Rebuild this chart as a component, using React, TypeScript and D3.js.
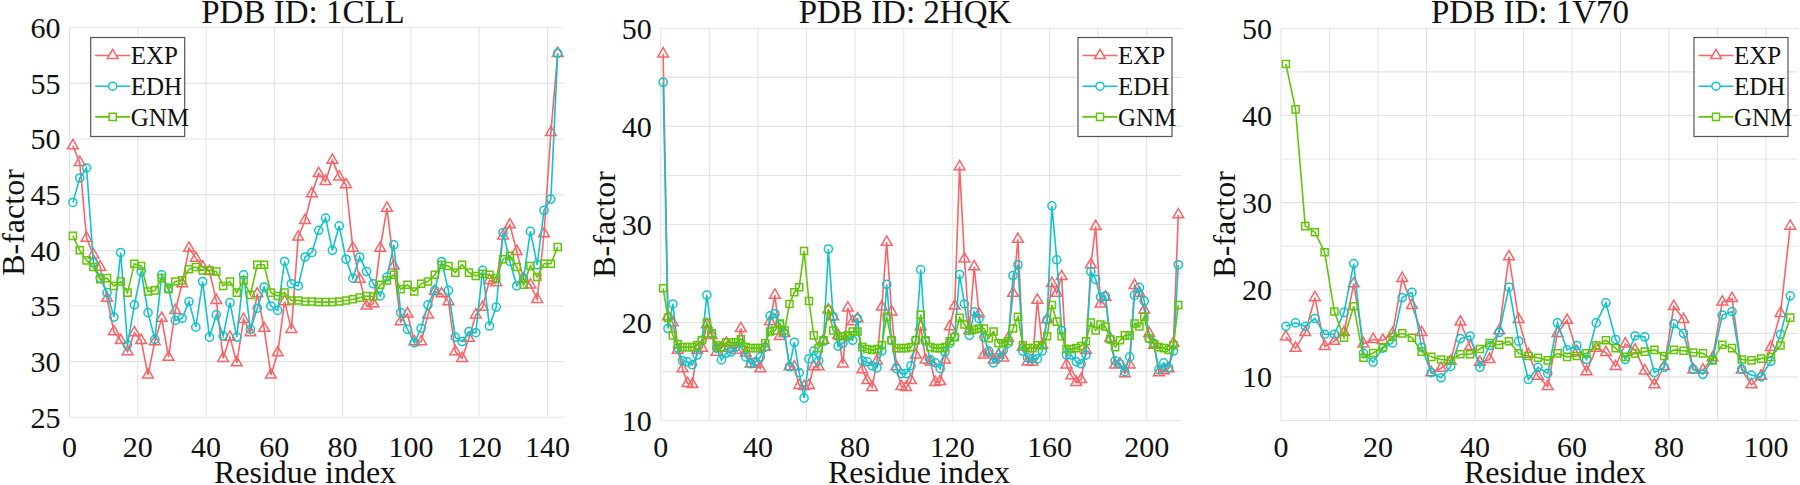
import * as React from "react";
import * as d3 from "d3";

const titles = ["PDB ID: 1CLL", "PDB ID: 2HQK", "PDB ID: 1V70"];
const seriesNames = ["EXP", "EDH", "GNM"];
const seriesColors = ["#f86468", "#12c3cc", "#63c408"];

// 1CLL, residues 1..143 every 2
const cllExp = [
  49.4, 47.9, 41.1, 39.6, 38.5, 35.7, 32.7, 31.9, 30.9, 32.6,
  31.9, 28.8, 31.8, 33.9, 30.4, 34.6, 37.0, 40.2, 39.3, 38.5,
  38.1, 35.5, 30.3, 32.2, 29.9, 33.8, 32.6, 36.1, 33.0, 28.8,
  30.8, 35.4, 32.9, 41.2, 42.7, 45.1, 46.9, 46.2, 48.1, 46.6,
  45.9, 40.2, 37.4, 35.0, 35.2, 40.2, 43.8, 38.6, 33.6, 34.3,
  31.8, 31.8, 34.2, 36.3, 36.1, 35.4, 30.9, 30.3, 32.1, 34.2,
  34.9, 37.3, 37.1, 41.3, 42.3, 39.9, 37.4, 36.9, 35.6, 41.5,
  50.6, 57.7,
];
const cllEdh = [
  44.3, 46.5, 47.4, 38.9, 37.5, 36.2, 34.0, 39.8, 31.5, 35.1,
  38.1, 34.4, 32.0, 37.8, 36.6, 33.7, 33.9, 35.4, 33.1, 37.2,
  32.2, 34.2, 32.3, 35.3, 32.2, 37.8, 32.9, 34.8, 36.7, 35.0,
  34.6, 39.0, 37.0, 36.8, 39.4, 39.8, 41.8, 42.9, 40.0, 42.2,
  39.2, 37.5, 39.4, 38.1, 37.0, 35.9, 37.6, 40.5, 34.4, 32.9,
  31.7, 33.0, 35.1, 36.4, 39.0, 36.4, 32.2, 31.8, 32.7, 32.6,
  38.2, 33.2, 34.9, 41.6, 39.0, 36.8, 37.5, 41.7, 38.7, 43.6,
  44.6, 57.7,
];
const cllGnm = [
  41.3, 40.0, 39.1, 38.5, 37.4, 37.5, 36.8, 37.2, 36.2, 38.8,
  38.6, 36.3, 36.4, 37.5, 36.5, 37.2, 37.3, 38.3, 38.5, 38.2,
  38.2, 38.1, 36.8, 37.2, 36.2, 37.3, 36.0, 38.7, 38.7, 36.2,
  35.9, 36.2, 35.5, 35.5, 35.4, 35.4, 35.35, 35.35, 35.35, 35.4,
  35.5, 35.6, 35.75, 35.9, 35.85, 36.9, 37.3, 37.8, 36.5, 36.9,
  36.3, 37.0, 37.2, 37.8, 38.7, 38.6, 38.0, 38.7, 38.0, 37.7,
  37.9, 37.8, 37.5, 39.2, 39.5, 38.5, 36.9, 38.6, 37.6, 38.8,
  38.8, 40.3,
];

// 2HQK, residues 1..213 every 2
const hqkExp = [
  47.4, 20.6, 20.0, 17.2, 15.3, 13.8, 13.7, 17.2, 17.4, 19.8,
  18.7, 17.0, 17.4, 17.9, 17.4, 17.2, 19.4, 16.9, 15.8, 15.8,
  15.3, 17.5, 20.1, 22.8, 18.6, 18.9, 15.5, 15.5, 13.6, 13.5,
  13.6, 15.5, 15.5, 18.2, 21.3, 20.6, 18.7, 15.8, 21.5, 20.1,
  20.4, 15.2, 14.1, 13.4, 16.1, 21.6, 28.2, 21.1, 15.5, 13.5,
  13.4, 14.1, 16.7, 19.6, 16.2, 16.0, 13.9, 14.0, 16.2, 19.6,
  21.7, 35.9, 26.5, 19.2, 25.7, 20.9, 16.7, 16.9, 16.2, 16.7,
  16.4, 18.4, 23.0, 28.5, 17.5, 16.0, 16.0, 22.3, 17.7, 20.3,
  24.0, 23.0, 24.7, 15.7, 14.6, 13.9, 14.2, 17.2, 25.9, 29.8,
  21.9, 22.6, 18.4, 15.7, 15.8, 14.8, 15.7, 23.8, 23.0, 21.3,
  18.9, 17.7, 14.9, 15.1, 15.3, 17.9, 31.0,
];
const hqkEdh = [
  44.5, 19.4, 21.9, 17.4, 16.1, 16.0, 15.7, 16.7, 18.2, 22.8,
  18.9, 17.4, 16.2, 16.9, 17.0, 17.5, 17.9, 16.5, 15.8, 16.0,
  16.5, 17.5, 20.7, 20.9, 19.8, 18.9, 15.5, 18.0, 14.9, 12.3,
  16.3, 17.1, 16.1, 18.1, 27.5, 20.6, 17.6, 17.9, 18.6, 18.2,
  20.4, 16.1, 16.0, 15.6, 15.4, 17.1, 23.9, 18.2, 15.3, 14.8,
  14.8, 15.6, 18.2, 25.4, 18.1, 16.2, 15.9, 15.3, 17.0, 17.9,
  18.6, 24.9, 21.9, 18.7, 21.1, 20.4, 18.5, 17.1, 15.9, 16.4,
  17.2, 17.9, 24.8, 25.9, 17.1, 16.4, 16.3, 16.3, 17.1, 20.3,
  31.9, 26.4, 19.2, 16.7, 16.7, 16.0, 15.8, 16.7, 25.2, 24.4,
  22.6, 22.7, 18.3, 16.1, 15.8, 15.0, 16.5, 22.8, 23.6, 22.2,
  18.4, 17.9, 15.2, 15.9, 15.4, 17.1, 25.9,
];
const hqkGnm = [
  23.5, 20.5, 18.7, 17.8, 17.5, 17.5, 17.5, 17.7, 18.2, 20.0,
  18.9, 17.7, 17.5, 18.0, 18.0, 18.0, 18.3, 17.5, 17.4, 17.4,
  17.4, 17.9, 19.1, 19.2, 19.9, 19.2, 21.9, 23.1, 23.6, 27.3,
  22.2, 18.7, 17.4, 18.2, 21.3, 19.2, 18.6, 18.6, 18.7, 19.1,
  19.1, 17.5, 17.3, 17.2, 17.3, 17.7, 20.6, 18.2, 17.4, 17.4,
  17.4, 17.5, 18.2, 20.8, 18.2, 17.5, 17.4, 17.4, 17.5, 18.1,
  18.5, 20.5, 19.8, 19.2, 19.3, 19.4, 19.4, 18.4, 19.1, 17.9,
  17.9, 18.1, 19.4, 20.6, 17.7, 17.4, 17.4, 17.7, 17.7, 18.6,
  21.8, 20.1, 18.6, 17.3, 17.3, 17.4, 17.6, 18.1, 20.0, 19.2,
  19.8, 19.6, 18.3, 17.5, 18.2, 18.7, 18.7, 19.9, 19.6, 20.6,
  18.4, 17.8, 17.5, 17.4, 17.2, 17.7, 21.8,
];

// 1V70, residues 1..105 every 2
const v70Exp = [
  14.6, 13.3, 15.1, 19.1, 13.5, 14.1, 15.1, 20.7, 13.8, 14.3,
  14.2, 15.0, 21.3, 18.2, 15.1, 10.5, 11.0, 11.8, 16.3, 13.5,
  11.7, 12.0, 15.3, 23.8, 16.6, 12.6, 10.1, 8.9, 15.0, 16.5,
  12.9, 10.6, 13.3, 12.8, 11.2, 13.8, 13.1, 10.7, 9.1, 11.2,
  18.1, 16.6, 10.8, 10.8, 12.2, 18.6, 19.0, 10.8, 9.1, 10.1,
  13.4, 17.3, 27.3,
];
const v70Edh = [
  15.8, 16.2, 15.8, 16.7, 14.9, 14.9, 17.4, 23.0, 12.7, 11.7,
  13.3, 13.9, 19.1, 19.7, 13.4, 10.5, 9.9, 11.2, 14.4, 14.7,
  11.1, 13.6, 15.1, 20.3, 14.1, 9.7, 11.1, 10.4, 16.2, 13.1,
  13.6, 12.0, 16.2, 18.5, 14.3, 12.0, 14.7, 14.6, 10.5, 11.1,
  16.1, 15.0, 10.9, 10.3, 12.0, 17.1, 17.5, 10.9, 10.2, 10.0,
  11.8, 14.9, 19.3,
];
const v70Gnm = [
  45.9, 40.7, 27.3, 26.6, 24.3, 17.5, 14.5, 18.1, 12.2, 12.75,
  13.4, 14.6, 15.0, 14.5, 12.9, 12.3, 12.0, 11.9, 12.6, 12.6,
  13.2, 13.9, 13.7, 14.1, 12.7, 12.4, 12.2, 11.9, 12.7, 12.3,
  12.4, 12.7, 13.6, 14.2, 13.3, 12.3, 12.7, 12.9, 13.1, 12.4,
  13.1, 13.0, 12.8, 12.7, 11.9, 13.7, 13.3, 12.0, 11.9, 12.1,
  12.3, 13.6, 16.8,
];

const cllYTicks = [25, 30, 35, 40, 45, 50, 55, 60];
const cllXTicks = [0, 20, 40, 60, 80, 100, 120, 140];
const hqkYTicks = [10, 20, 30, 40, 50];
const hqkXTicks = [0, 40, 80, 120, 160, 200];
const v70YTicks = [10, 20, 30, 40, 50];
const v70XTicks = [0, 20, 40, 60, 80, 100];

const FONT = "'Liberation Serif', 'Times New Roman', serif";

const panels = [
  {
    title: titles[0], series: [cllExp, cllEdh, cllGnm],
    yTicks: cllYTicks, xTicks: cllXTicks, xGridStep: 20,
    xMax: 144.7, yDomain: [25, 60],
    left: 69.5, right: 563.5, top: 27.7, bottom: 417.3,
    titleX: 303, labelX: 305, legendLeft: 90.7,
  },
  {
    title: titles[1], series: [hqkExp, hqkEdh, hqkGnm],
    yTicks: hqkYTicks, xTicks: hqkXTicks, xGridStep: 20,
    xMax: 214.4, yDomain: [10, 50],
    left: 660.7, right: 1181.7, top: 28.3, bottom: 420.7,
    titleX: 905, labelX: 919, legendLeft: 1078,
  },
  {
    title: titles[2], series: [v70Exp, v70Edh, v70Gnm],
    yTicks: v70YTicks, xTicks: v70XTicks, xGridStep: 10,
    xMax: 106.6, yDomain: [5, 50],
    left: 1281, right: 1798, top: 28.3, bottom: 420.5,
    titleX: 1530, labelX: 1555, legendLeft: 1694,
  },
];

const symbols = [d3.symbolTriangle, d3.symbolCircle, d3.symbolSquare];
const symbolSizes = [50, 52, 50];

export default function App() {
  const ref = React.useRef<SVGSVGElement>(null);

  React.useEffect(() => {
    const svg = d3.select(ref.current);
    svg.selectAll("*").remove();

    panels.forEach((p) => {
      const x = d3.scaleLinear().domain([0, p.xMax]).range([p.left, p.right]);
      const y = d3.scaleLinear().domain(p.yDomain).range([p.bottom, p.top]);
      const g = svg.append("g");

      // grid
      const yGrid = d3.range(p.yDomain[0], p.yDomain[1] + 0.1, 5);
      const xGrid = d3.range(0, p.xMax, p.xGridStep);
      g.selectAll(".hg")
        .data(yGrid)
        .enter()
        .append("line")
        .attr("x1", p.left)
        .attr("x2", p.right)
        .attr("y1", (d) => y(d))
        .attr("y2", (d) => y(d))
        .attr("stroke", "#e4e4e4")
        .attr("stroke-width", 1.1);
      g.selectAll(".vg")
        .data(xGrid)
        .enter()
        .append("line")
        .attr("x1", (d) => x(d))
        .attr("x2", (d) => x(d))
        .attr("y1", p.top)
        .attr("y2", p.bottom)
        .attr("stroke", "#e4e4e4")
        .attr("stroke-width", 1.1);

      // series
      p.series.forEach((vals, si) => {
        const pts = vals.map((v, i) => [1 + 2 * i, v] as [number, number]);
        const line = d3
          .line<[number, number]>()
          .x((d) => x(d[0]))
          .y((d) => y(d[1]));
        g.append("path")
          .attr("d", line(pts))
          .attr("fill", "none")
          .attr("stroke", seriesColors[si])
          .attr("stroke-width", 1.6);
        const sym = d3.symbol().type(symbols[si]).size(symbolSizes[si]);
        g.selectAll(".m" + si)
          .data(pts)
          .enter()
          .append("path")
          .attr("d", sym()!)
          .attr("transform", (d) => `translate(${x(d[0])},${y(d[1])})`)
          .attr("fill", "none")
          .attr("stroke", seriesColors[si])
          .attr("stroke-width", 1.5);
      });

      // tick labels
      g.selectAll(".yt")
        .data(p.yTicks)
        .enter()
        .append("text")
        .text((d) => d)
        .attr("x", p.left - 9)
        .attr("y", (d) => y(d))
        .attr("dy", "0.34em")
        .attr("text-anchor", "end")
        .attr("font-family", FONT)
        .attr("font-size", 30)
        .attr("fill", "#111");
      g.selectAll(".xt")
        .data(p.xTicks)
        .enter()
        .append("text")
        .text((d) => d)
        .attr("x", (d) => x(d))
        .attr("y", 457)
        .attr("text-anchor", "middle")
        .attr("font-family", FONT)
        .attr("font-size", 30)
        .attr("fill", "#111");

      // title and axis labels
      g.append("text")
        .text(p.title)
        .attr("x", p.titleX)
        .attr("y", 23)
        .attr("text-anchor", "middle")
        .attr("font-family", FONT)
        .attr("font-size", 33)
        .attr("fill", "#111");
      g.append("text")
        .text("Residue index")
        .attr("x", p.labelX)
        .attr("y", 483)
        .attr("text-anchor", "middle")
        .attr("font-family", FONT)
        .attr("font-size", 32)
        .attr("fill", "#111");
      g.append("text")
        .text("B-factor")
        .attr("transform", `translate(${p.left - 46},${(p.top + p.bottom) / 2}) rotate(-90)`)
        .attr("text-anchor", "middle")
        .attr("font-family", FONT)
        .attr("font-size", 32)
        .attr("fill", "#111");

      // legend
      const lg = g.append("g").attr("transform", `translate(${p.legendLeft},37.5)`);
      lg.append("rect")
        .attr("width", 94)
        .attr("height", 99)
        .attr("fill", "white")
        .attr("stroke", "#555")
        .attr("stroke-width", 1.2);
      seriesNames.forEach((name, si) => {
        const ry = 18 + si * 30.7;
        lg.append("line")
          .attr("x1", 4.5)
          .attr("x2", 39.5)
          .attr("y1", ry)
          .attr("y2", ry)
          .attr("stroke", seriesColors[si])
          .attr("stroke-width", 1.6);
        lg.append("path")
          .attr("d", d3.symbol().type(symbols[si]).size(symbolSizes[si])()!)
          .attr("transform", `translate(22,${ry})`)
          .attr("fill", "white")
          .attr("stroke", seriesColors[si])
          .attr("stroke-width", 1.5);
        lg.append("text")
          .text(name)
          .attr("x", 40)
          .attr("y", ry)
          .attr("dy", "0.35em")
          .attr("font-family", FONT)
          .attr("font-size", 25)
          .attr("fill", "#111");
      });
    });
  }, []);

  return (
    <div>
      <svg
        ref={ref}
        width={1800}
        height={485}
        style={{ position: "absolute", left: 0, top: 0, background: "white" }}
      />
    </div>
  );
}
